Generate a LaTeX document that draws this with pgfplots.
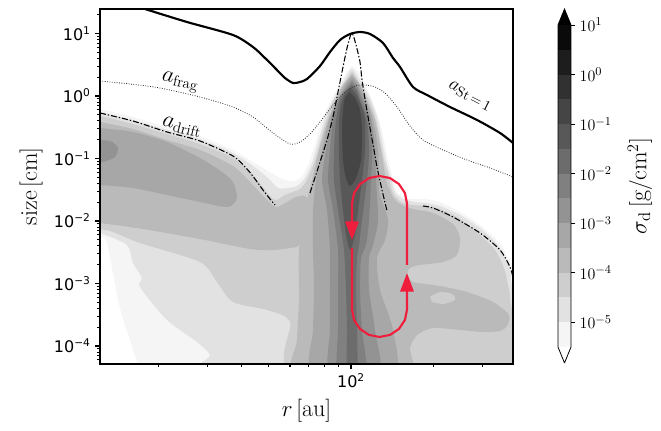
\documentclass[border=0pt]{standalone}
\usepackage{fontspec}
\newfontfamily\dejavu{DejaVu Sans}
\usepackage{pgfplots}
\pgfplotsset{compat=1.18}
\usetikzlibrary{arrows.meta}
\definecolor{c0}{gray}{0.9615}
\definecolor{c1}{gray}{0.8846}
\definecolor{c2}{gray}{0.8077}
\definecolor{c3}{gray}{0.7308}
\definecolor{c4}{gray}{0.6538}
\definecolor{c5}{gray}{0.5769}
\definecolor{c6}{gray}{0.5}
\definecolor{c7}{gray}{0.4231}
\definecolor{c8}{gray}{0.3462}
\definecolor{c9}{gray}{0.2692}
\definecolor{c10}{gray}{0.1923}
\definecolor{c11}{gray}{0.1154}
\definecolor{c12}{gray}{0.0385}
\definecolor{loopred}{RGB}{238,30,60}
\newcommand{\tk}[1]{{\dejavu 10\textsuperscript{#1}}}
\pgfplotsset{table/lt/.style={x expr=10^(\thisrow{lr}), y expr=10^(\thisrow{la}), row sep=\\}}
\begin{document}
\begin{tikzpicture}
\path[use as bounding box] (-75pt,-50.25pt) rectangle (420.75pt,273pt);
\begin{axis}[
  at={(0pt,0pt)}, anchor=south west,
  scale only axis, width=309.75pt, height=266.25pt,
  xmode=log, ymode=log,
  xmin=12.23, xmax=388.1, ymin=5.15e-5, ymax=24.66,
  axis on top,
  axis line style={line width=1.1pt},
  tick align=outside, tick pos=left,
  xtick={100}, xticklabels={\tk{2}},
  minor xtick={20,30,40,50,60,70,80,90,200,300},
  ytick={1e-4,1e-3,1e-2,1e-1,1,10},
  yticklabels={\tk{−4},\tk{−3},\tk{−2},\tk{−1},\tk{0},\tk{1}},
  minor ytick={6e-5,7e-5,8e-5,9e-5,2e-4,3e-4,4e-4,5e-4,6e-4,7e-4,8e-4,9e-4,2e-3,3e-3,4e-3,5e-3,6e-3,7e-3,8e-3,9e-3,0.02,0.03,0.04,0.05,0.06,0.07,0.08,0.09,0.2,0.3,0.4,0.5,0.6,0.7,0.8,0.9,2,3,4,5,6,7,8,9,20},
  major tick length=3.5pt, minor tick length=2pt,
  tick style={black, line width=0.8pt},
  ticklabel style={font=\fontsize{12}{14}\selectfont},
  xlabel={$r\,[\mathrm{au}]$}, ylabel={$\mathrm{size}\,[\mathrm{cm}]$},
  label style={font=\fontsize{18}{21}\selectfont},
  xlabel style={at={(axis description cs:0.5,-0.132)}, anchor=center},
  ylabel style={at={(axis description cs:-0.167,0.5)}, anchor=center},
  every axis plot/.append style={smooth, tension=0.45},
]
% level 0
\addplot[fill=c0, draw=none] table[lt] {lr la\\
1.0509 -0.208\\ 1.0873 -0.208\\ 1.2073 -0.336\\ 1.3309 -0.496\\ 1.4509 -0.640\\ 1.5709 -0.864\\ 1.6436 -1.056\\ 1.6982 -1.200\\ 1.7418 -1.312\\ 1.7782 -1.360\\ 1.8036 -1.344\\ 1.8255 -1.264\\ 1.8509 -1.024\\ 1.8800 -0.624\\ 1.9018 -0.304\\ 1.9273 -0.064\\ 1.9673 0.256\\ 1.9891 0.416\\ 2.0036 0.480\\ 2.0218 0.416\\ 2.0473 0.224\\ 2.0764 -0.064\\ 2.1018 -0.384\\ 2.1200 -0.704\\ 2.1345 -1.024\\ 2.1527 -1.312\\ 2.1673 -1.536\\ 2.1964 -1.632\\ 2.2327 -1.648\\ 2.2691 -1.648\\ 2.3236 -1.696\\ 2.3964 -1.856\\ 2.4691 -2.064\\ 2.5418 -2.352\\ 2.5782 -2.656\\ 2.6146 -2.944\\ 2.6146 -4.464\\ 1.2255 -4.464\\ 1.2218 -4.256\\ 1.1600 -3.392\\ 1.1127 -2.352\\ 1.0873 -2.272\\ 1.0509 -2.272\\
};
% level 1
\addplot[fill=c1, draw=none] table[lt] {lr la\\
1.0509 -0.256\\ 1.0873 -0.256\\ 1.2073 -0.384\\ 1.3309 -0.544\\ 1.4509 -0.688\\ 1.5709 -0.912\\ 1.6436 -1.120\\ 1.6982 -1.312\\ 1.7345 -1.472\\ 1.7709 -1.472\\ 1.8036 -1.440\\ 1.8327 -1.312\\ 1.8618 -1.024\\ 1.8873 -0.624\\ 1.9091 -0.304\\ 1.9345 -0.064\\ 1.9709 0.224\\ 2.0036 0.432\\ 2.0364 0.224\\ 2.0727 -0.064\\ 2.0982 -0.384\\ 2.1127 -0.704\\ 2.1273 -1.024\\ 2.1455 -1.312\\ 2.1600 -1.536\\ 2.1891 -1.648\\ 2.2327 -1.696\\ 2.2691 -1.712\\ 2.3236 -1.760\\ 2.3964 -1.904\\ 2.4691 -2.112\\ 2.5345 -2.384\\ 2.5673 -2.672\\ 2.5818 -2.944\\ 2.5818 -4.464\\ 1.4982 -4.464\\ 1.4873 -4.144\\ 1.4400 -3.936\\ 1.3309 -3.584\\ 1.2327 -3.056\\ 1.2400 -2.912\\ 1.2073 -2.672\\ 1.1855 -2.384\\ 1.0873 -2.192\\ 1.0509 -2.192\\
};
% level 2
\addplot[fill=c2, draw=none] table[lt] {lr la\\
1.0509 -0.320\\ 1.0873 -0.320\\ 1.2073 -0.448\\ 1.3309 -0.608\\ 1.4509 -0.768\\ 1.5709 -0.992\\ 1.6400 -1.248\\ 1.6873 -1.504\\ 1.7236 -1.664\\ 1.7600 -1.584\\ 1.7891 -1.536\\ 1.8145 -1.488\\ 1.8400 -1.344\\ 1.8727 -0.992\\ 1.8945 -0.624\\ 1.9164 -0.304\\ 1.9382 -0.064\\ 1.9782 0.208\\ 2.0036 0.384\\ 2.0291 0.208\\ 2.0655 -0.064\\ 2.0909 -0.384\\ 2.1055 -0.704\\ 2.1200 -1.024\\ 2.1382 -1.312\\ 2.1527 -1.552\\ 2.1818 -1.696\\ 2.2218 -1.744\\ 2.2691 -1.760\\ 2.3236 -1.808\\ 2.3964 -1.968\\ 2.4618 -2.192\\ 2.5236 -2.464\\ 2.5564 -2.752\\ 2.5709 -3.024\\ 2.5782 -3.264\\ 2.5782 -4.464\\ 1.8036 -4.464\\ 1.7782 -3.616\\ 1.6946 -3.424\\ 1.5709 -3.296\\ 1.5127 -2.976\\ 1.4509 -2.656\\ 1.2327 -2.352\\ 1.1236 -2.160\\ 1.0509 -2.112\\
};
% level 3
\addplot[fill=c3, draw=none] table[lt] {lr la\\
1.0509 -0.400\\ 1.0873 -0.416\\ 1.2073 -0.528\\ 1.3309 -0.704\\ 1.4509 -0.864\\ 1.5709 -1.120\\ 1.6400 -1.408\\ 1.6873 -1.632\\ 1.7273 -1.776\\ 1.7673 -1.696\\ 1.8000 -1.616\\ 1.8327 -1.600\\ 1.8546 -1.744\\ 1.8436 -2.144\\ 1.8145 -2.384\\ 1.7782 -2.432\\ 1.7164 -2.464\\ 1.6327 -2.448\\ 1.4509 -2.288\\ 1.2436 -2.128\\ 1.0873 -2.032\\ 1.0509 -2.016\\
};
\addplot[fill=c3, draw=none] table[lt] {lr la\\
2.0036 0.352\\ 1.9782 0.224\\ 1.9600 0.096\\ 1.9455 -0.064\\ 1.9164 -0.384\\ 1.8836 -0.864\\ 1.8582 -1.344\\ 1.8327 -1.824\\ 1.8109 -2.464\\ 1.8109 -3.264\\ 1.8036 -3.904\\ 1.8036 -4.464\\ 2.2255 -4.464\\ 2.2255 -4.256\\ 2.2145 -4.032\\ 2.2400 -3.824\\ 2.2982 -3.712\\ 2.3964 -3.744\\ 2.4800 -3.776\\ 2.5418 -3.760\\ 2.5673 -3.680\\ 2.5746 -3.504\\ 2.5164 -3.296\\ 2.4218 -3.136\\ 2.3418 -3.056\\ 2.2982 -3.024\\ 2.2255 -2.976\\ 2.2036 -2.864\\ 2.2145 -2.752\\ 2.2509 -2.704\\ 2.3345 -2.656\\ 2.3855 -2.544\\ 2.3964 -2.272\\ 2.3709 -2.048\\ 2.2982 -1.872\\ 2.2255 -1.808\\ 2.1782 -1.728\\ 2.1527 -1.616\\ 2.1273 -1.344\\ 2.1091 -0.864\\ 2.0873 -0.384\\ 2.0582 -0.064\\ 2.0400 0.128\\ 2.0218 0.256\\
};
\addplot[fill=c2, draw=none] table[lt] {lr la\\
2.2873 -3.216\\ 2.3236 -3.136\\ 2.3673 -3.168\\ 2.3782 -3.264\\ 2.3345 -3.328\\ 2.2945 -3.296\\
};
% level 4
\addplot[fill=c4, draw=none] table[lt] {lr la\\
1.0509 -0.496\\ 1.0873 -0.512\\ 1.2073 -0.576\\ 1.3309 -0.736\\ 1.4509 -0.992\\ 1.5309 -1.216\\ 1.5709 -1.376\\ 1.5855 -1.632\\ 1.5527 -1.776\\ 1.4509 -1.696\\ 1.3309 -1.584\\ 1.2073 -1.472\\ 1.0873 -1.424\\ 1.0509 -1.424\\
};
\addplot[fill=c4, draw=none] table[lt] {lr la\\
2.0036 0.320\\ 1.9818 0.208\\ 1.9491 -0.064\\ 1.9200 -0.384\\ 1.8945 -0.864\\ 1.8727 -1.344\\ 1.8618 -1.824\\ 1.8618 -2.464\\ 1.8655 -3.104\\ 1.8618 -3.744\\ 1.8618 -4.464\\ 2.1527 -4.464\\ 2.1527 -3.744\\ 2.1055 -3.104\\ 2.0945 -2.592\\ 2.1236 -2.304\\ 2.1345 -1.984\\ 2.1055 -1.584\\ 2.1018 -1.344\\ 2.0982 -0.864\\ 2.0800 -0.384\\ 2.0545 -0.064\\ 2.0255 0.208\\
};
% level 5
\addplot[fill=c5, draw=none] table[lt] {lr la\\
1.0509 -0.700\\ 1.1236 -0.720\\ 1.1527 -0.832\\ 1.1418 -0.976\\ 1.0982 -1.056\\ 1.0509 -1.060\\
};
\addplot[fill=c5, draw=none] table[lt] {lr la\\
2.0036 0.272\\ 1.9855 0.176\\ 1.9527 -0.064\\ 1.9273 -0.384\\ 1.9091 -0.864\\ 1.8945 -1.344\\ 1.9127 -1.824\\ 1.9236 -2.464\\ 1.9236 -3.104\\ 1.9236 -3.744\\ 1.9236 -4.464\\ 2.1018 -4.464\\ 2.0873 -3.744\\ 2.0655 -3.104\\ 2.0655 -2.592\\ 2.0800 -2.384\\ 2.0982 -1.984\\ 2.0909 -1.344\\ 2.0873 -0.864\\ 2.0727 -0.384\\ 2.0473 -0.064\\ 2.0218 0.176\\
};
% level 6
\addplot[fill=c6, draw=none] table[lt] {lr la\\
2.0036 0.224\\ 1.9855 0.128\\ 1.9564 -0.064\\ 1.9345 -0.384\\ 1.9236 -0.864\\ 1.9164 -1.344\\ 1.9345 -1.824\\ 1.9527 -2.464\\ 1.9527 -3.104\\ 1.9527 -3.744\\ 1.9527 -4.464\\ 2.0545 -4.464\\ 2.0400 -3.744\\ 2.0327 -3.104\\ 2.0364 -2.592\\ 2.0545 -2.384\\ 2.0655 -1.984\\ 2.0727 -1.344\\ 2.0764 -0.864\\ 2.0655 -0.384\\ 2.0400 -0.064\\ 2.0218 0.128\\
};
% level 7
\addplot[fill=c7, draw=none] table[lt] {lr la\\
2.0036 0.176\\ 1.9818 0.080\\ 1.9600 -0.064\\ 1.9455 -0.384\\ 1.9382 -0.864\\ 1.9382 -1.344\\ 1.9527 -1.824\\ 1.9745 -2.464\\ 1.9818 -3.104\\ 1.9855 -3.744\\ 1.9855 -4.464\\ 2.0218 -4.464\\ 2.0218 -3.744\\ 2.0182 -3.104\\ 2.0218 -2.592\\ 2.0291 -2.384\\ 2.0400 -1.984\\ 2.0582 -1.344\\ 2.0655 -0.864\\ 2.0582 -0.384\\ 2.0327 -0.064\\ 2.0218 0.080\\
};
% level 8
\addplot[fill=c8, draw=none] table[lt] {lr la\\
2.0000 0.128\\ 1.9782 0.032\\ 1.9636 -0.144\\ 1.9564 -0.384\\ 1.9564 -0.864\\ 1.9600 -1.344\\ 1.9709 -1.824\\ 1.9818 -2.224\\ 1.9964 -2.464\\ 2.0145 -2.224\\ 2.0255 -1.824\\ 2.0400 -1.344\\ 2.0509 -0.864\\ 2.0509 -0.384\\ 2.0364 -0.144\\ 2.0182 0.032\\
};
% level 9
\addplot[fill=c9, draw=none] table[lt] {lr la\\
1.9964 0.064\\ 1.9782 -0.032\\ 1.9709 -0.224\\ 1.9673 -0.544\\ 1.9709 -1.024\\ 1.9818 -1.312\\ 1.9964 -1.440\\ 2.0182 -1.312\\ 2.0364 -1.024\\ 2.0400 -0.544\\ 2.0327 -0.224\\ 2.0145 -0.032\\
};
% a_St=1
\addplot[black, line width=1.6pt] table[lt] {lr la\\
1.1600 1.520\\ 1.2509 1.392\\ 1.4036 1.184\\ 1.5709 0.976\\ 1.6436 0.784\\ 1.6873 0.608\\ 1.7309 0.416\\ 1.7600 0.288\\ 1.7891 0.208\\ 1.8145 0.224\\ 1.8400 0.272\\ 1.8873 0.480\\ 1.9236 0.704\\ 1.9600 0.896\\ 1.9964 0.992\\ 2.0327 1.024\\ 2.0691 0.992\\ 2.1164 0.848\\ 2.1527 0.608\\ 2.1782 0.464\\ 2.2255 0.144\\ 2.2764 0.016\\ 2.3600 -0.176\\ 2.4582 -0.384\\ 2.5418 -0.592\\ 2.5891 -0.752\\
};
\addplot[black, line width=1.6pt, sharp plot] table[lt] {lr la\\
2.5891 -0.752\\ 2.5891 -4.500\\
};
% a_frag
\addplot[black!85, line width=0.6pt, dash pattern=on 0.6pt off 1.2pt] table[lt] {lr la\\
1.0873 0.240\\ 1.1964 0.192\\ 1.3055 0.128\\ 1.4509 -0.016\\ 1.5709 -0.176\\ 1.6436 -0.336\\ 1.7164 -0.592\\ 1.7782 -0.768\\ 1.8145 -0.736\\ 1.8509 -0.608\\ 1.8873 -0.416\\ 1.9345 -0.144\\ 1.9782 0.064\\ 2.0145 0.160\\ 2.0509 0.176\\ 2.0873 0.144\\ 2.1236 0.048\\ 2.1673 -0.176\\ 2.2145 -0.480\\ 2.2618 -0.704\\ 2.3345 -0.864\\ 2.4218 -1.024\\ 2.5055 -1.152\\ 2.5891 -1.296\\
};
% a_drift
\addplot[black, line width=0.8pt, dash pattern=on 4.5pt off 1.5pt on 1pt off 1.5pt] table[lt] {lr la\\
1.0873 -0.272\\ 1.2073 -0.400\\ 1.3309 -0.576\\ 1.4509 -0.720\\ 1.5709 -0.960\\ 1.6218 -1.168\\ 1.6509 -1.328\\ 1.6800 -1.504\\ 1.7055 -1.648\\ 1.7236 -1.744\\
};
\addplot[black, line width=0.8pt, dash pattern=on 4.5pt off 1.5pt on 1pt off 1.5pt] table[lt] {lr la\\
1.8509 -1.552\\ 1.8873 -1.056\\ 1.9127 -0.704\\ 1.9345 -0.336\\ 1.9527 0.064\\ 1.9709 0.464\\ 1.9855 0.768\\ 2.0000 0.992\\ 2.0073 0.976\\ 2.0182 0.816\\ 2.0327 0.544\\ 2.0400 0.256\\ 2.0545 -0.144\\ 2.0691 -0.512\\ 2.0836 -0.864\\ 2.0945 -1.136\\ 2.1127 -1.504\\ 2.1309 -1.840\\
};
\addplot[black, line width=0.8pt, dash pattern=on 4.5pt off 1.5pt on 1pt off 1.5pt] table[lt] {lr la\\
2.2618 -1.760\\ 2.2982 -1.792\\ 2.3709 -1.936\\ 2.4691 -2.192\\ 2.5418 -2.464\\ 2.5782 -2.736\\ 2.5891 -2.912\\
};
% red loop
\addplot[loopred, line width=1.6pt, sharp plot, line join=round, -{Triangle[length=14pt,width=10pt]}] table[lt] {lr la\\
2.2036 -2.704\\ 2.2036 -1.720\\ 2.1960 -1.5516\\ 2.1743 -1.4089\\ 2.1419 -1.3135\\ 2.1036 -1.280\\ 2.0653 -1.3135\\ 2.0329 -1.4089\\ 2.0112 -1.5516\\ 2.0036 -1.720\\ 2.0036 -2.304\\
};
\addplot[loopred, line width=1.6pt, sharp plot, line join=round, -{Triangle[length=14pt,width=10pt]}] table[lt] {lr la\\
2.0036 -2.432\\ 2.0036 -3.416\\ 2.0112 -3.5844\\ 2.0329 -3.7271\\ 2.0653 -3.8225\\ 2.1036 -3.856\\ 2.1419 -3.8225\\ 2.1743 -3.7271\\ 2.1960 -3.5844\\ 2.2036 -3.416\\ 2.2036 -2.832\\
};
\node[rotate=-11, font=\fontsize{16}{19}\selectfont] at (axis cs:23.88,1.675) {$a_{\mathrm{frag}}$};
\node[rotate=-14, font=\fontsize{16}{19}\selectfont] at (axis cs:24.29,0.3192) {$a_{\mathrm{drift}}$};
\node[rotate=-27, font=\fontsize{15}{18}\selectfont] at (axis cs:270.8,1.0) {$a_{\mathrm{St}\,=\,1}$};
\end{axis}
\begin{axis}[
  at={(343.5pt,12.75pt)}, anchor=south west,
  scale only axis, width=9.75pt, height=241.5pt,
  ymode=log, ymin=3.1623e-6, ymax=10, xmin=0, xmax=1,
  xtick=\empty, ytick={1e-5,1e-4,1e-3,1e-2,1e-1,1,10}, yminorticks=false,
  ytick pos=right, yticklabel pos=right,
  tick align=outside, major tick length=3pt,
  tick style={black, line width=0.6pt},
  axis line style={draw=none},
  clip=false,
  yticklabel style={font=\fontsize{12.75}{15}\selectfont},
  ylabel={$\sigma_{\mathrm{d}}\,[\mathrm{g}/\mathrm{cm}^2]$},
  ylabel style={at={(axis description cs:6.3,0.5)}, anchor=center, font=\fontsize{18}{21}\selectfont},
]
\addplot[fill=c0, draw=none] coordinates {(0,3.1623e-6) (1,3.1623e-6) (1,1e-5) (0,1e-5)};
\addplot[fill=c1, draw=none] coordinates {(0,1e-5) (1,1e-5) (1,3.1623e-5) (0,3.1623e-5)};
\addplot[fill=c2, draw=none] coordinates {(0,3.1623e-5) (1,3.1623e-5) (1,1e-4) (0,1e-4)};
\addplot[fill=c3, draw=none] coordinates {(0,1e-4) (1,1e-4) (1,3.1623e-4) (0,3.1623e-4)};
\addplot[fill=c4, draw=none] coordinates {(0,3.1623e-4) (1,3.1623e-4) (1,1e-3) (0,1e-3)};
\addplot[fill=c5, draw=none] coordinates {(0,1e-3) (1,1e-3) (1,3.1623e-3) (0,3.1623e-3)};
\addplot[fill=c6, draw=none] coordinates {(0,3.1623e-3) (1,3.1623e-3) (1,1e-2) (0,1e-2)};
\addplot[fill=c7, draw=none] coordinates {(0,1e-2) (1,1e-2) (1,3.1623e-2) (0,3.1623e-2)};
\addplot[fill=c8, draw=none] coordinates {(0,3.1623e-2) (1,3.1623e-2) (1,0.1) (0,0.1)};
\addplot[fill=c9, draw=none] coordinates {(0,0.1) (1,0.1) (1,0.31623) (0,0.31623)};
\addplot[fill=c10, draw=none] coordinates {(0,0.31623) (1,0.31623) (1,1) (0,1)};
\addplot[fill=c11, draw=none] coordinates {(0,1) (1,1) (1,3.1623) (0,3.1623)};
\addplot[fill=c12, draw=none] coordinates {(0,3.1623) (1,3.1623) (1,10) (0,10)};
\addplot[fill=black, draw=none] coordinates {(0,10) (1,10) (0.5,21.0)};
\addplot[fill=white, draw=none] coordinates {(0,3.1623e-6) (1,3.1623e-6) (0.5,1.503e-6)};
\addplot[black, line width=0.6pt] coordinates {(0.5,1.503e-6) (0,3.1623e-6) (0,10) (0.5,21.0) (1,10) (1,3.1623e-6) (0.5,1.503e-6)};
\end{axis}
\end{tikzpicture}
\end{document}
